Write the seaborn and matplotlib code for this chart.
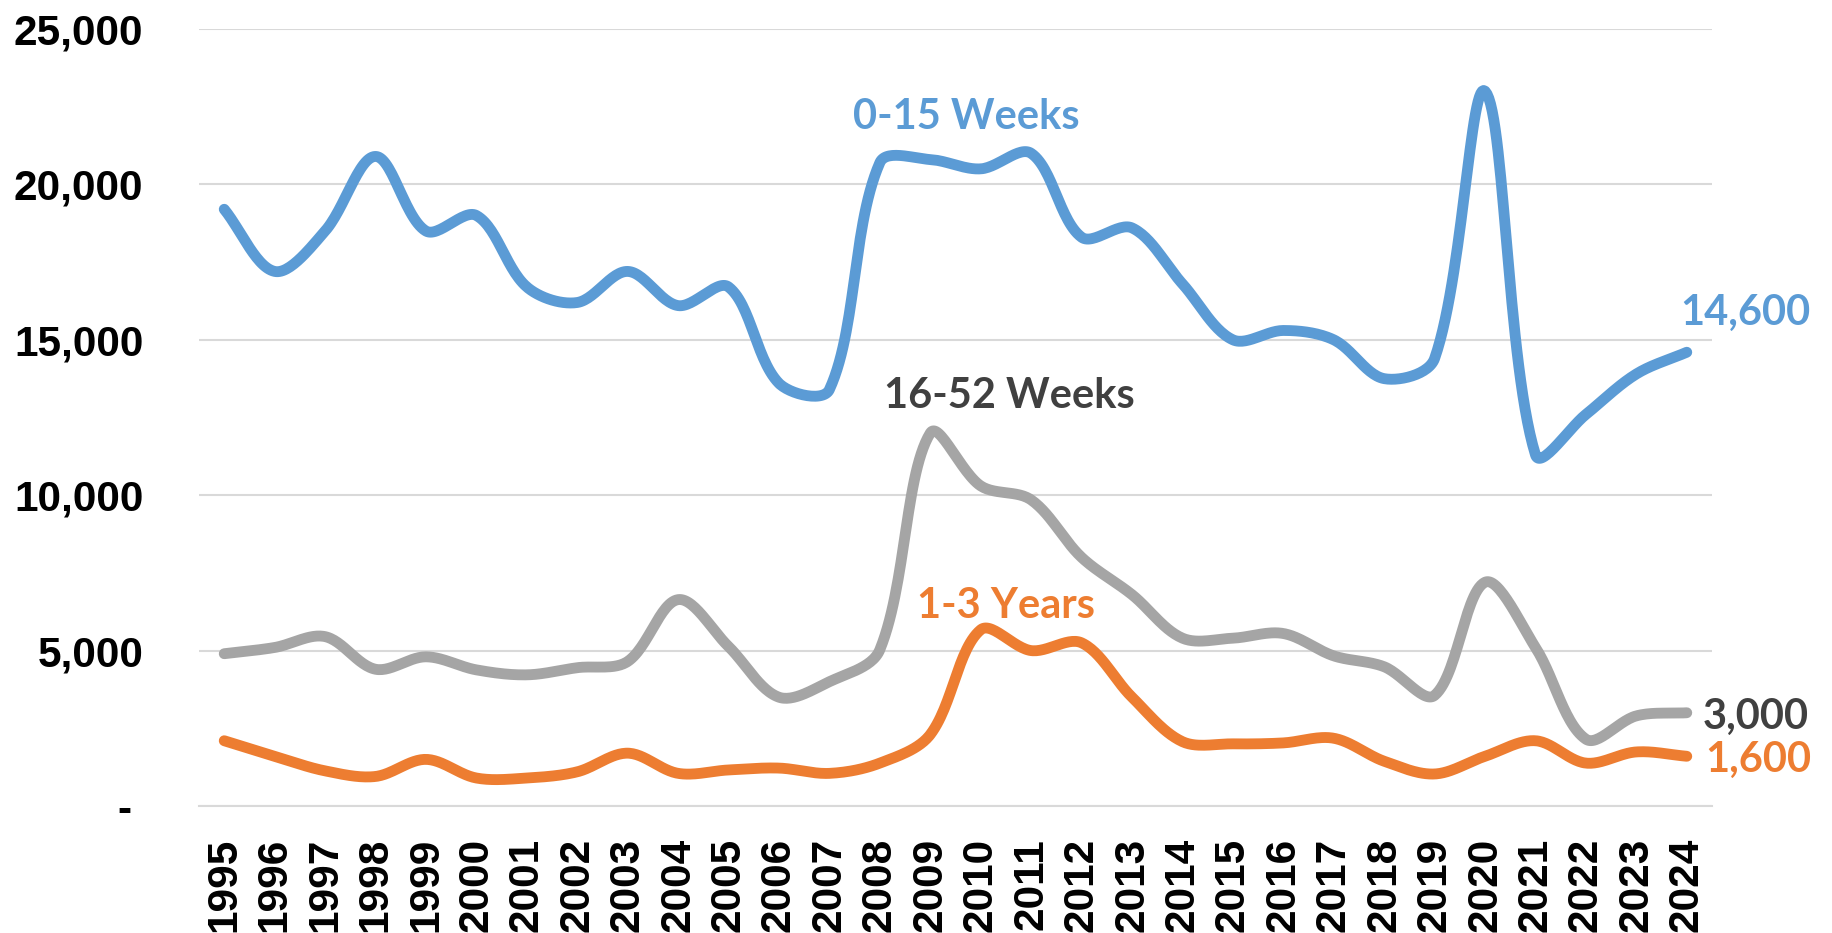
import numpy as np
import pandas as pd
import matplotlib
matplotlib.use('Agg')
from matplotlib import pyplot as plt
from matplotlib.ticker import FuncFormatter
import seaborn as sns

years = list(range(1995, 2025))
weeks_0_15 = [19200, 17200, 18500, 20900, 18500, 19000, 16700, 16200, 17200, 16100,
              16700, 13600, 13400, 20700, 20800, 20500, 21000, 18300, 18600, 16800,
              15000, 15300, 15000, 13750, 14400, 23000, 11300, 12600, 13900, 14600]
weeks_16_52 = [4900, 5100, 5450, 4400, 4800, 4380, 4220, 4450, 4650, 6640,
               5130, 3500, 4000, 5030, 12000, 10300, 9850, 8000, 6800, 5400,
               5400, 5550, 4830, 4480, 3560, 7200, 5100, 2150, 2900, 3000]
years_1_3 = [2100, 1600, 1130, 950, 1500, 900, 900, 1100, 1700, 1050,
             1160, 1220, 1050, 1380, 2300, 5670, 5000, 5250, 3500, 2070,
             2000, 2030, 2180, 1440, 1030, 1600, 2100, 1380, 1740, 1600]
end_labels = [14600, 3000, 1600]
series_names = ['0-15 Weeks', '16-52 Weeks', '1-3 Years']
y_ticks = [0, 5000, 10000, 15000, 20000, 25000]

BLUE = '#5B9BD5'
GRAY = '#A5A5A5'
ORANGE = '#ED7D31'
DARK = '#404040'
GRID = '#D9D9D9'

# pixel size of one category step and of one unit on y, used for the smoothing weights
PX_X, PX_Y = 50.4, 0.03104


def smooth(values, n=30):
    # excel-style smoothed line: bezier through every point, tangents weighted by segment length
    pts = np.column_stack([np.arange(len(values)), values]).astype(float)
    pad = np.vstack([pts[0], pts, pts[-1]])
    scr = pad * [PX_X, PX_Y]
    d = np.hypot(*np.diff(scr, axis=0).T)
    d[d == 0] = 1e-9
    t = np.linspace(0, 1, n)[:, None]
    out = []
    for i in range(len(pts) - 1):
        p0, p3 = pad[i + 1], pad[i + 2]
        d_prev, d_seg, d_next = d[i], d[i + 1], d[i + 2]
        c1 = p0 + (pad[i + 2] - pad[i]) * d_seg / (3 * (d_prev + d_seg))
        c2 = p3 - (pad[i + 3] - pad[i + 1]) * d_seg / (3 * (d_seg + d_next))
        seg = (1 - t) ** 3 * p0 + 3 * (1 - t) ** 2 * t * c1 + 3 * (1 - t) * t ** 2 * c2 + t ** 3 * p3
        out.append(seg if i == 0 else seg[1:])
    return pd.DataFrame(np.vstack(out), columns=['x', 'y'])


sns.set_style('white')
plt.rcParams['font.family'] = ['Liberation Sans', 'DejaVu Sans']

fig = plt.figure(figsize=(18.32, 9.33), dpi=100)
ax = fig.add_axes([199 / 1832, 1 - 806 / 933, (1712 - 199) / 1832, (806 - 29) / 933])

for vals, color in [(weeks_0_15, BLUE), (weeks_16_52, GRAY), (years_1_3, ORANGE)]:
    sns.lineplot(data=smooth(vals), x='x', y='y', sort=False, estimator=None,
                 color=color, lw=7.8, solid_capstyle='round', ax=ax)

ax.set_xlim(-0.5, len(years) - 0.5)
ax.set_ylim(0, 25000)
ax.set_xlabel('')
ax.set_ylabel('')

ax.set_yticks(y_ticks)
ax.yaxis.set_major_formatter(FuncFormatter(lambda v, p: '- ' if v == 0 else f'{int(v):,}'))
ax.set_xticks(range(len(years)))
ax.set_xticklabels([str(y) for y in years], rotation=90)
ax.set_xticks(np.arange(-0.5, len(years), 1), minor=True)

ax.yaxis.grid(True, color=GRID, lw=1.5)
ax.set_axisbelow(True)
for s in ['left', 'top', 'right']:
    ax.spines[s].set_visible(False)
ax.spines['bottom'].set_color(GRID)
ax.spines['bottom'].set_linewidth(1.5)

ax.tick_params(axis='y', length=0, pad=40)
ax.tick_params(axis='x', which='major', length=0, pad=23)
ax.tick_params(axis='x', which='minor', length=10.5, width=1.5, color=GRID, direction='out')
for lab in ax.get_xticklabels() + ax.get_yticklabels():
    lab.set_fontsize(30.5)
    lab.set_fontweight('bold')
    lab.set_color('black')

lab_font = dict(family=['Lato', 'DejaVu Sans'], fontweight='bold', fontsize=30)
ax.text(14.72, 21780, series_names[0], color=BLUE, ha='center', va='baseline', **lab_font)
ax.text(15.57, 12820, series_names[1], color=DARK, ha='center', va='baseline', **lab_font)
ax.text(15.51, 6060, series_names[2], color=ORANGE, ha='center', va='baseline', **lab_font)

last = len(years) - 1
ax.annotate(f'{end_labels[0]:,}', xy=(last, weeks_0_15[-1]), xytext=(-5, 20),
            textcoords='offset points', color=BLUE, ha='left', va='baseline', **lab_font)
ax.annotate(f'{end_labels[1]:,}', xy=(last, weeks_16_52[-1]), xytext=(11.5, -12),
            textcoords='offset points', color=DARK, ha='left', va='baseline', **lab_font)
ax.annotate(f'{end_labels[2]:,}', xy=(last, years_1_3[-1]), xytext=(13, -11.5),
            textcoords='offset points', color=ORANGE, ha='left', va='baseline', **lab_font)

plt.savefig('out.png', dpi=100)
plt.close()
